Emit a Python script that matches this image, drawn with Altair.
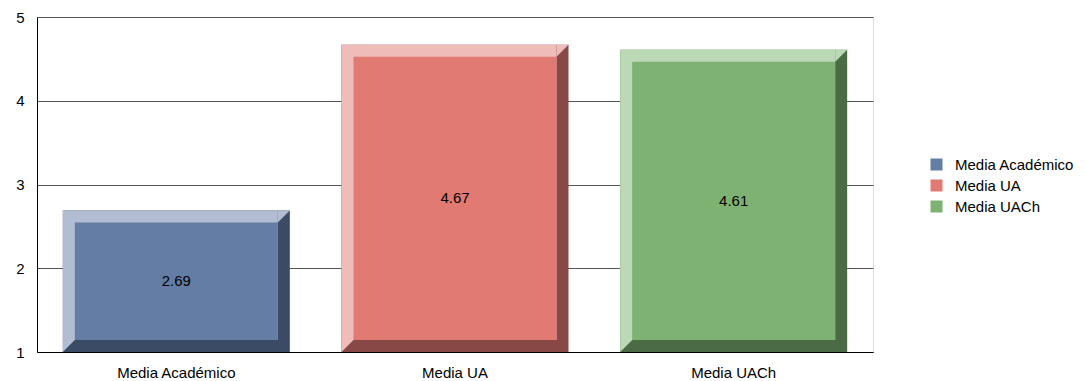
import altair as alt
import pandas as pd

categories = ["Media Académico", "Media UA", "Media UACh"]
values = [2.69, 4.67, 4.61]
face_colors = ["#647DA4", "#E07A73", "#7DB273"]
light_colors = ["#B0BDD2", "#EFBCB9", "#BCD9B7"]
dark_colors = ["#3B4B65", "#884845", "#4B6B45"]

df = pd.DataFrame({"category": categories, "value": values})

BAR_W = 227
BEV = 12
FONT = "Liberation Sans"
FS = 15

base = alt.Chart(df).transform_calculate(base="1", mid="(datum.value + 1) / 2")

x = alt.X(
    "category:N",
    sort=categories,
    scale=alt.Scale(paddingInner=0, paddingOuter=0),
    axis=alt.Axis(title=None, labelAngle=0, ticks=False, domainColor="black",
                  labelPadding=13, labelFontSize=FS, labelColor="black", labelFont=FONT),
)
y = alt.Y(
    "value:Q",
    scale=alt.Scale(domain=[1, 5], nice=False, zero=False),
    axis=alt.Axis(title=None, values=[1, 2, 3, 4, 5], format="d", ticks=False, grid=True,
                  gridColor="#555555", domainColor="black", labelPadding=13,
                  labelFontSize=FS, labelColor="black", labelFont=FONT),
)
y2 = alt.Y2("base:Q")

dark = base.mark_bar(width=BAR_W).encode(
    x=x, y=y, y2=y2,
    color=alt.Color("category:N", scale=alt.Scale(domain=categories, range=dark_colors), legend=None),
)
light = base.mark_bar(width=BAR_W - BEV, xOffset=-BEV / 2, y2Offset=-BEV).encode(
    x=x, y=y, y2=y2,
    color=alt.Color("category:N", scale=alt.Scale(domain=categories, range=light_colors), legend=None),
)
tri_shape = "M -1 -1 L 1 -1 L -1 1 Z"
tri_top = base.mark_point(shape=tri_shape, filled=True, size=BEV * BEV, opacity=1,
                          strokeWidth=0, xOffset=BAR_W / 2 - BEV / 2, yOffset=BEV / 2).encode(
    x=x, y=y,
    color=alt.Color("category:N", scale=alt.Scale(domain=categories, range=light_colors), legend=None),
)
tri_bot = base.mark_point(shape=tri_shape, filled=True, size=BEV * BEV, opacity=1,
                          strokeWidth=0, xOffset=-(BAR_W / 2 - BEV / 2), yOffset=-BEV / 2).encode(
    x=x, y=alt.Y("base:Q"),
    color=alt.Color("category:N", scale=alt.Scale(domain=categories, range=light_colors), legend=None),
)
face = base.mark_bar(width=BAR_W - 2 * BEV, yOffset=BEV, y2Offset=-BEV).encode(
    x=x, y=y, y2=y2,
    color=alt.Color(
        "category:N",
        scale=alt.Scale(domain=categories, range=face_colors),
        legend=alt.Legend(title=None, orient="none", legendX=892, legendY=140,
                          symbolType="square", symbolSize=144, symbolStrokeWidth=0,
                          labelFontSize=FS, labelFont=FONT, labelColor="black",
                          rowPadding=5, labelOffset=11),
    ),
)
labels = base.mark_text(fontSize=FS, font=FONT, color="black").encode(
    x=x, y=alt.Y("mid:Q"), text=alt.Text("value:Q", format=".2f"),
)

chart = (
    alt.layer(dark, light, tri_top, tri_bot, face, labels)
    .resolve_scale(color="independent")
    .properties(width=836, height=335, autosize="none",
                padding={"left": 29, "top": 9, "right": 200, "bottom": 38})
    .configure_view(stroke="#555555", strokeWidth=1)
    .configure(font=FONT)
)

chart.save("out.html", embed_options={"renderer": "svg", "actions": False})
